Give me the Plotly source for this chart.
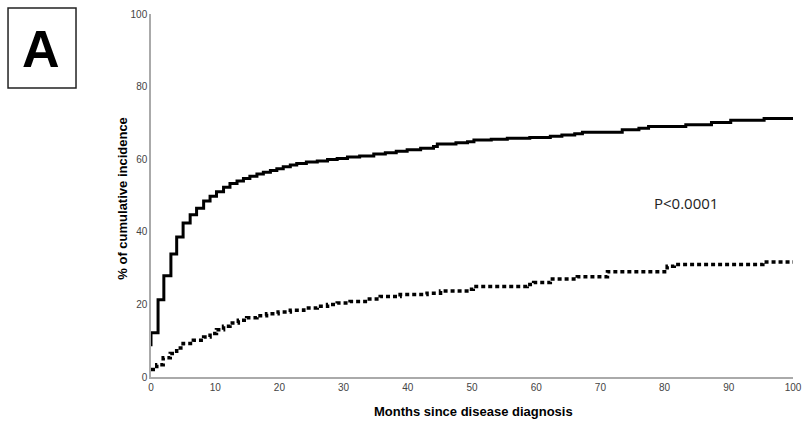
import plotly.graph_objects as go

# Solid curve (higher cumulative incidence) step points: months, %
solid_months = [0, 0, 1.1, 2.0, 3.1, 4.0, 5.0, 6.1, 7.1, 8.2, 9.2, 10.2, 11.3, 12.3, 13.4,
                14.4, 15.4, 16.5, 17.5, 18.6, 19.6, 20.6, 21.7, 22.7, 24.2, 25.9, 27.5,
                29.0, 30.6, 32.5, 34.7, 36.5, 38.2, 39.9, 42.0, 44.0, 44.6, 47.5, 49.3,
                50.3, 53.0, 55.5, 59.0, 62.2, 64.0, 66.0, 67.2, 73.4, 76.0, 77.5, 83.3,
                87.3, 90.3, 95.5, 100.0]
solid_values = [8.5, 12.2, 21.3, 27.9, 33.9, 38.6, 42.4, 44.7, 46.5, 48.5, 49.8, 51.0, 52.3,
                53.3, 54.0, 54.7, 55.3, 55.9, 56.4, 56.9, 57.4, 57.9, 58.4, 58.8, 59.2,
                59.5, 59.9, 60.2, 60.6, 60.9, 61.4, 61.8, 62.2, 62.6, 63.0, 63.5, 64.2,
                64.5, 64.8, 65.3, 65.5, 65.8, 66.0, 66.3, 66.7, 67.0, 67.4, 68.1, 68.5,
                69.0, 69.5, 70.1, 70.7, 71.2, 71.2]

# Dotted curve (lower cumulative incidence)
dotted_months = [0, 0.9, 1.9, 3.0, 4.0, 5.0, 6.6, 8.2, 9.2, 10.2, 11.3, 12.3, 13.6, 14.9,
                 16.5, 18.0, 19.8, 21.7, 23.8, 25.9, 27.5, 29.0, 31.0, 33.7, 35.7, 38.8,
                 43.0, 45.1, 49.2, 50.2, 58.6, 59.6, 62.2, 66.4, 71.1, 80.4, 81.5, 95.3,
                 100.0]
dotted_values = [2.1, 3.4, 5.3, 6.5, 8.0, 9.2, 10.1, 11.0, 12.0, 13.0, 14.0, 14.9, 15.6,
                 16.3, 16.9, 17.4, 17.9, 18.4, 19.0, 19.5, 20.0, 20.4, 20.8, 21.5, 22.2,
                 22.7, 23.1, 23.7, 24.2, 24.9, 25.5, 26.0, 27.0, 27.6, 29.0, 30.5, 31.0,
                 31.7, 31.7]

x_ticks = [0, 10, 20, 30, 40, 50, 60, 70, 80, 90, 100]
y_ticks = [0, 20, 40, 60, 80, 100]

fig = go.Figure()
fig.add_trace(go.Scatter(x=solid_months, y=solid_values, mode="lines",
                         line=dict(color="black", width=3, shape="hv"),
                         showlegend=False, hoverinfo="skip"))
fig.add_trace(go.Scatter(x=dotted_months, y=dotted_values, mode="lines",
                         line=dict(color="black", width=3.5, shape="hv", dash="4px,3px"),
                         showlegend=False, hoverinfo="skip"))

fig.update_layout(
    width=802, height=425,
    margin=dict(l=151, r=9, t=14, b=48, autoexpand=False),
    paper_bgcolor="white", plot_bgcolor="white",
    font=dict(family="Liberation Sans, Arial, sans-serif", color="#333"),
    xaxis=dict(range=[0, 100], tickvals=x_ticks, ticks="", showgrid=False, zeroline=False,
               showline=True, linecolor="#aaaaaa", linewidth=1.5, automargin=False,
               tickfont=dict(size=10, color="#444")),
    yaxis=dict(range=[0, 100], tickvals=y_ticks, ticks="", showgrid=False, zeroline=False,
               showline=True, linecolor="#aaaaaa", linewidth=1.5, automargin=False,
               tickfont=dict(size=10, color="#444")),
    shapes=[dict(type="rect", xref="paper", yref="paper",
                 x0=-0.2227, x1=-0.1168, y0=0.7961, y1=1.0165,
                 line=dict(color="#222", width=1.5), fillcolor="white")],
    annotations=[
        dict(text="A", xref="paper", yref="paper", x=-0.1713, y=0.9036,
             showarrow=False, font=dict(size=52, color="black",
                                        family="Liberation Sans, Arial, sans-serif", weight="bold"),
             xanchor="center", yanchor="middle"),
        dict(text="P<0.0001", xref="x", yref="y", x=83.3, y=48,
             showarrow=False, font=dict(size=15, color="#222", family="Open Sans, sans-serif"),
             xanchor="center", yanchor="middle"),
        dict(text="<b>Months since disease diagnosis</b>", xref="paper", yref="paper",
             x=(473.5 - 151) / 642, y=(377 - 411.7) / 363, showarrow=False,
             font=dict(size=13, color="black"), xanchor="center", yanchor="middle"),
        dict(text="<b>% of cumulative incidence</b>", xref="paper", yref="paper",
             x=(121.7 - 151) / 642, y=(377 - 198) / 363, showarrow=False, textangle=-90,
             font=dict(size=13, color="black"), xanchor="center", yanchor="middle"),
    ],
)

fig.write_html("out.html", config={"displayModeBar": False},
               post_script="document.body.style.margin='0';document.body.style.overflow='hidden';")
